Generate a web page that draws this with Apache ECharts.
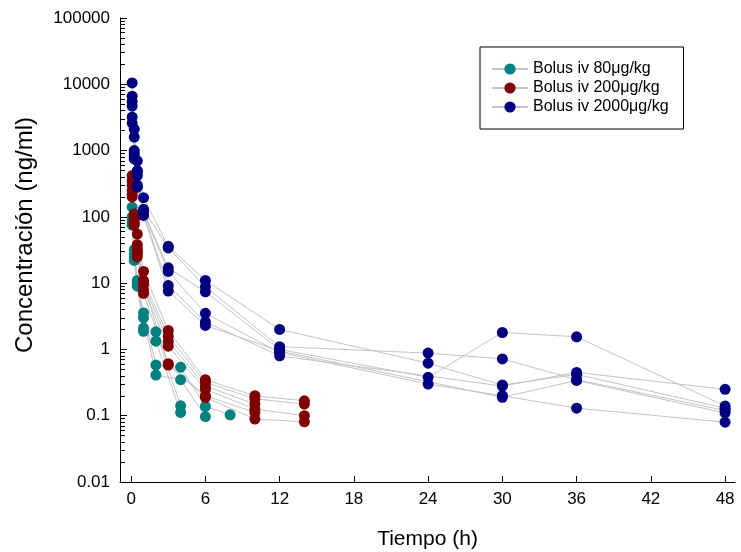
<!DOCTYPE html>
<html>
<head>
<meta charset="utf-8">
<script src="https://cdn.jsdelivr.net/npm/echarts@6/dist/echarts.min.js"></script>
<style>html,body{margin:0;padding:0;background:#fff;}#c{width:741px;height:552px;}</style>
</head>
<body>
<div id="c"></div>
<script>
// ---- data ----
const groupNames = ['Bolus iv 80μg/kg', 'Bolus iv 200μg/kg', 'Bolus iv 2000μg/kg'];
const groupColors = ['#008080', '#800000', '#000080'];
const xTicks = [0, 6, 12, 18, 24, 30, 36, 42, 48];
const yTicks = [0.01, 0.1, 1, 10, 100, 1000, 10000, 100000];
const yTitle = 'Concentración (ng/ml)';
const xTitle = 'Tiempo (h)';

// 80 μg/kg subjects [time (h), concentration (ng/ml)]
const t80_1 = [[0.083,140],[0.25,32],[0.5,10.5],[1,3.55],[2,0.58],[4,0.54],[6,0.138],[8,0.103]];
const t80_2 = [[0.083,100],[0.25,24],[0.5,10],[1,3.0],[2,0.41],[4,0.35],[6,0.097]];
const t80_3 = [[0.083,85],[0.25,22],[0.5,9],[1,2.1],[2,1.84],[4,0.141]];
const t80_4 = [[0.083,75],[0.25,28],[0.5,11],[1,1.88],[2,1.33],[4,0.112]];

// 200 μg/kg subjects
const t200_1 = [[0.083,420],[0.25,110],[0.5,55],[1,15],[3,1.93],[6,0.35],[10,0.2],[14,0.168]];
const t200_2 = [[0.083,300],[0.25,100],[0.5,38],[1,11],[3,1.58],[6,0.32],[10,0.18],[14,0.15]];
const t200_3 = [[0.083,250],[0.25,90],[0.5,33],[1,9.5],[3,1.33],[6,0.28],[10,0.15]];
const t200_4 = [[0.083,220],[0.25,80],[0.5,28],[1,8],[3,1.12],[6,0.25],[10,0.126],[14,0.1]];
const t200_5 = [[0.083,200],[0.25,75],[0.5,25],[1,7],[3,0.61],[6,0.2],[10,0.112]];
const t200_6 = [[0.083,350],[0.25,95],[0.5,30],[1,10],[3,0.58],[6,0.19],[10,0.089],[14,0.081]];

// 2000 μg/kg subjects
const t2000_1 = [[0.083,10500],[0.25,2100],[0.5,700],[1,195],[3,36],[6,11],[12,2.0],[24,0.62],[30,0.29],[36,0.42],[48,0.13]];
const t2000_2 = [[0.083,6600],[0.25,1600],[0.5,480],[1,130],[3,34],[6,8.8],[12,1.1],[24,0.88],[30,0.72],[36,0.35],[48,0.12]];
const t2000_3 = [[0.083,5500],[0.25,900],[0.5,420],[1,120],[3,17],[6,7.4],[12,1.0],[24,0.38],[30,1.8],[36,1.55],[48,0.14]];
const t2000_4 = [[0.083,4700],[0.25,800],[0.5,300],[1,115],[3,15],[6,3.5],[12,0.9],[24,0.3],[30,0.2],[36,0.13],[48,0.08]];
const t2000_5 = [[0.083,3200],[0.25,750],[0.5,280],[1,110],[3,9.2],[6,2.6],[12,0.8],[30,0.28],[36,0.45],[48,0.25]];
const t2000_6 = [[0.083,2600],[0.25,1000],[0.5,500],[1,105],[3,7.6],[6,2.3],[12,0.95],[30,0.19],[36,0.34],[48,0.11]];

const groups = [
  [t80_1, t80_2, t80_3, t80_4],
  [t200_1, t200_2, t200_3, t200_4, t200_5, t200_6],
  [t2000_1, t2000_2, t2000_3, t2000_4, t2000_5, t2000_6]
];

// minor ticks 2..9 per decade
const minorTicks = [];
for (let e = -2; e < 5; e++) for (let m = 2; m <= 9; m++) minorTicks.push(+(m * Math.pow(10, e)).toPrecision(3));

const FONT = 'Liberation Sans, Arial, sans-serif';
const series = [];
groups.forEach((subs, gi) => {
  subs.forEach(d => {
    series.push({
      name: groupNames[gi],
      type: 'line',
      data: d,
      symbol: 'circle',
      symbolSize: 11,
      showSymbol: true,
      lineStyle: { color: '#c4c4c4', width: 1 },
      itemStyle: { color: groupColors[gi] },
      emphasis: { disabled: true },
      animation: false
    });
  });
});

const chart = echarts.init(document.getElementById('c'));
chart.setOption({
  animation: false,
  backgroundColor: '#fff',
  grid: { left: 120, right: 6, top: 18, bottom: 70, containLabel: false, outerBoundsMode: 'none' },
  graphic: [{
    type: 'text',
    x: 25, y: 235,
    rotation: Math.PI / 2,
    silent: true,
    style: { text: yTitle, fontFamily: FONT, fontSize: 24, fill: '#000', align: 'center', verticalAlign: 'middle' }
  }],
  legend: {
    data: groupNames,
    orient: 'vertical',
    left: 480, top: 47,
    padding: [14, 15, 14, 11],
    itemGap: 3,
    itemWidth: 36, itemHeight: 14,
    borderColor: '#000', borderWidth: 1,
    textStyle: { fontFamily: FONT, fontSize: 16, lineHeight: 16, color: '#000' },
    selectedMode: false
  },
  xAxis: {
    type: 'value',
    min: -0.9, max: 48.8,
    name: xTitle,
    nameLocation: 'middle',
    nameGap: 47,
    nameTextStyle: { fontFamily: FONT, fontSize: 21, color: '#000' },
    axisLine: { onZero: false, lineStyle: { color: '#000', width: 1 } },
    axisTick: { inside: true, length: 6, customValues: xTicks, lineStyle: { color: '#000' } },
    axisLabel: { customValues: xTicks, margin: 9, fontFamily: FONT, fontSize: 17, color: '#000' },
    splitLine: { show: false }
  },
  yAxis: [{
    type: 'log', logBase: 10,
    min: 0.01, max: 100000,
    axisLine: { show: true, onZero: false, lineStyle: { color: '#000', width: 1 } },
    axisTick: { show: true, inside: true, length: 7, customValues: yTicks, lineStyle: { color: '#000' } },
    axisLabel: { customValues: yTicks, margin: 10, fontFamily: FONT, fontSize: 17, color: '#000',
      formatter: v => String(v) },
    splitLine: { show: false }
  }, {
    type: 'log', logBase: 10,
    min: 0.01, max: 100000,
    position: 'left',
    axisLine: { show: false, onZero: false },
    axisTick: { show: true, inside: true, length: 5, customValues: minorTicks, lineStyle: { color: '#000' } },
    axisLabel: { show: false },
    splitLine: { show: false }
  }],
  series: series
});
</script>
</body>
</html>
